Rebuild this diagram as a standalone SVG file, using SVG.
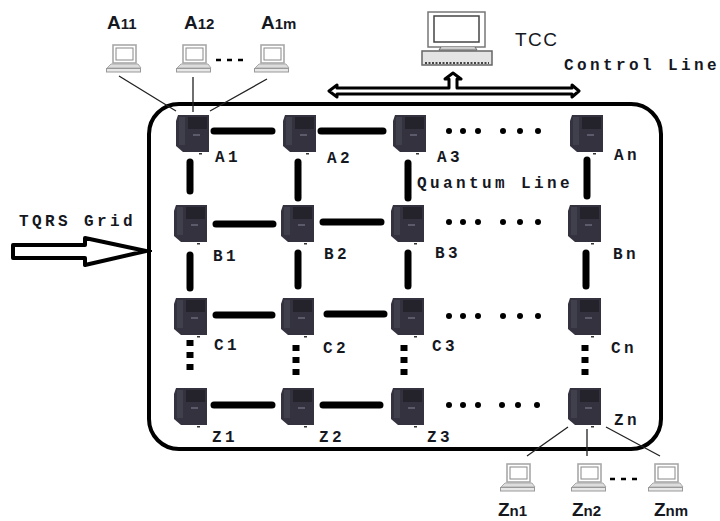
<svg xmlns="http://www.w3.org/2000/svg" width="720" height="521" viewBox="0 0 720 521">
<style>
.m{font-family:"Liberation Mono","DejaVu Sans Mono",monospace;font-weight:bold;font-size:16px;letter-spacing:3.4px;fill:#15181f}
.s{font-family:"Liberation Sans",Arial,sans-serif;font-weight:bold;font-size:19px;fill:#15181f}
.s tspan{font-size:15px}
.e{stroke:#000;stroke-width:7;stroke-linecap:round;fill:none}
.d{stroke:#000;stroke-width:7;stroke-dasharray:6 6;fill:none}
.t{stroke:#222;stroke-width:1.3;fill:none}
</style>
<defs>
<g id="srv">
<path d="M3 2 H34 V39 H8 L1 33 V8 Z" fill="#34323f"/>
<rect x="13" y="4" width="19" height="12" fill="#24232c"/>
<rect x="4" y="4" width="6" height="28" fill="#403f4c"/>
<rect x="18" y="21" width="7" height="2" fill="#5c5b6c"/>
<rect x="24" y="40" width="3" height="1.5" fill="#333"/>
</g>
<g id="lap">
<rect x="7" y="1" width="23" height="18" fill="#fff" stroke="#a8a8a8" stroke-width="1.6"/>
<rect x="10" y="4" width="17" height="12" fill="#fff" stroke="#888" stroke-width="1"/>
<path d="M5 20 H32 L35 24 H1 Z" fill="#ddd" stroke="#aaa"/>
<rect x="0.500" y="24.500" width="34" height="3.500" fill="#e8e8e8" stroke="#999"/>
</g>
<g id="pc">
<rect x="7" y="12" width="57" height="35" fill="#fff" stroke="#777" stroke-width="1.500"/>
<rect x="13" y="16" width="45" height="26" fill="#fff" stroke="#444" stroke-width="1.500"/>
<path d="M20 47 L18 50 H56 L54 47" fill="#ccc" stroke="#666"/>
<rect x="1" y="51" width="70" height="14" fill="#e4e4e4" stroke="#666" stroke-width="1.500"/>
<path d="M4 63 H68" stroke="#444" stroke-width="2" stroke-dasharray="2 1.500"/>
</g>
</defs>

<g id="connectors">
<rect x="149" y="104" width="512" height="345" rx="30" fill="none" stroke="#000" stroke-width="4"/>
<path class="e" d="M214 131H272M321 131H383M216 224H273M323 222H381M216 315H272M327 314H384M214 405H272M323 405H380"/>
<path class="e" d="M190 162V191M190 255V288M298 162V198M298 253V286M408 163V198M408 253V286M587 160V196M586 253V286"/>
<path class="d" d="M190 340V376M296 345V380M404 345V380M585 345V380"/>
<path class="t" d="M119 76L176 111M193 77V112M267 79L210 111M568 427L527 456M587 429V456M606 427L660 456"/>
<path d="M216 60H248M610 479H643" stroke="#000" stroke-width="2.500" stroke-dasharray="5 6" fill="none"/>
<path d="M329 91L337 85V88H449V79H445L453 73L461 79H457V88H572V85L579 91L572 97V94H337V97Z" fill="#fff" stroke="#000" stroke-width="3" stroke-linejoin="round"/>
<path d="M13 245H85V238L146 251L85 265V258H13Z" fill="#fff" stroke="#000" stroke-width="4" stroke-linejoin="round"/>
<path d="M146 251H152" stroke="#000" stroke-width="2"/>
</g>

<g id="TCC"><use href="#pc" x="421" y="0"/><text x="515" y="46" font-family="Liberation Sans,Arial,sans-serif" font-size="19" letter-spacing="1.500" fill="#15181f">TCC</text></g>
<g id="control-line-label"><text class="m" x="564" y="70">Control Line</text></g>
<g id="quantum-line-label"><text class="m" x="417" y="188">Quantum Line</text></g>
<g id="grid-label"><text class="m" x="19" y="226">TQRS Grid</text></g>

<g id="A11"><use href="#lap" x="106" y="44"/><text class="s" x="107" y="29">A<tspan>11</tspan></text></g>
<g id="A12"><use href="#lap" x="176" y="44"/><text class="s" x="184" y="29">A<tspan>12</tspan></text></g>
<g id="A1m"><use href="#lap" x="254" y="44"/><text class="s" x="261" y="29">A<tspan>1m</tspan></text></g>

<g id="n-A1"><use href="#srv" x="175" y="113"/><text class="m" x="215" y="162">A1</text></g>
<g id="n-A2"><use href="#srv" x="282" y="113"/><text class="m" x="327" y="163">A2</text></g>
<g id="n-A3"><use href="#srv" x="392" y="113"/><text class="m" x="437" y="162">A3</text></g>
<g id="n-An"><use href="#srv" x="569" y="113"/><text class="m" x="614" y="160">An</text></g>

<g id="n-B1"><use href="#srv" x="173" y="203"/><text class="m" x="213" y="261">B1</text></g>
<g id="n-B2"><use href="#srv" x="280" y="203"/><text class="m" x="324" y="259">B2</text></g>
<g id="n-B3"><use href="#srv" x="390" y="203"/><text class="m" x="435" y="258">B3</text></g>
<g id="n-Bn"><use href="#srv" x="567" y="203"/><text class="m" x="613" y="259">Bn</text></g>

<g id="n-C1"><use href="#srv" x="173" y="296"/><text class="m" x="214" y="350">C1</text></g>
<g id="n-C2"><use href="#srv" x="280" y="296"/><text class="m" x="323" y="353">C2</text></g>
<g id="n-C3"><use href="#srv" x="390" y="296"/><text class="m" x="432" y="351">C3</text></g>
<g id="n-Cn"><use href="#srv" x="567" y="296"/><text class="m" x="611" y="353">Cn</text></g>

<g id="n-Z1"><use href="#srv" x="173" y="386"/><text class="m" x="212" y="442">Z1</text></g>
<g id="n-Z2"><use href="#srv" x="280" y="386"/><text class="m" x="319" y="442">Z2</text></g>
<g id="n-Z3"><use href="#srv" x="390" y="386"/><text class="m" x="427" y="442">Z3</text></g>
<g id="n-Zn"><use href="#srv" x="567" y="386"/><text class="m" x="614" y="425">Zn</text></g>

<g id="Zn1"><use href="#lap" x="500" y="463"/><text class="s" x="498" y="516">Z<tspan>n1</tspan></text></g>
<g id="Zn2"><use href="#lap" x="571" y="463"/><text class="s" x="572" y="516">Z<tspan>n2</tspan></text></g>
<g id="Znm"><use href="#lap" x="648" y="463"/><text class="s" x="654" y="516">Z<tspan>nm</tspan></text></g>

<g id="ellipses" fill="#000">
<circle cx="449" cy="131" r="3"/><circle cx="463" cy="131" r="3"/><circle cx="478" cy="131" r="3"/><circle cx="503" cy="131" r="3"/><circle cx="520" cy="131" r="3"/><circle cx="538" cy="131" r="3"/>
<circle cx="449" cy="222" r="3"/><circle cx="463" cy="222" r="3"/><circle cx="478" cy="222" r="3"/><circle cx="503" cy="222" r="3"/><circle cx="520" cy="222" r="3"/><circle cx="538" cy="222" r="3"/>
<circle cx="449" cy="316" r="3"/><circle cx="463" cy="316" r="3"/><circle cx="478" cy="316" r="3"/><circle cx="503" cy="316" r="3"/><circle cx="520" cy="316" r="3"/><circle cx="538" cy="316" r="3"/>
<circle cx="449" cy="405" r="3"/><circle cx="463" cy="405" r="3"/><circle cx="478" cy="405" r="3"/><circle cx="502" cy="405" r="3"/><circle cx="518" cy="405" r="3"/><circle cx="537" cy="405" r="3"/>
</g>
</svg>
